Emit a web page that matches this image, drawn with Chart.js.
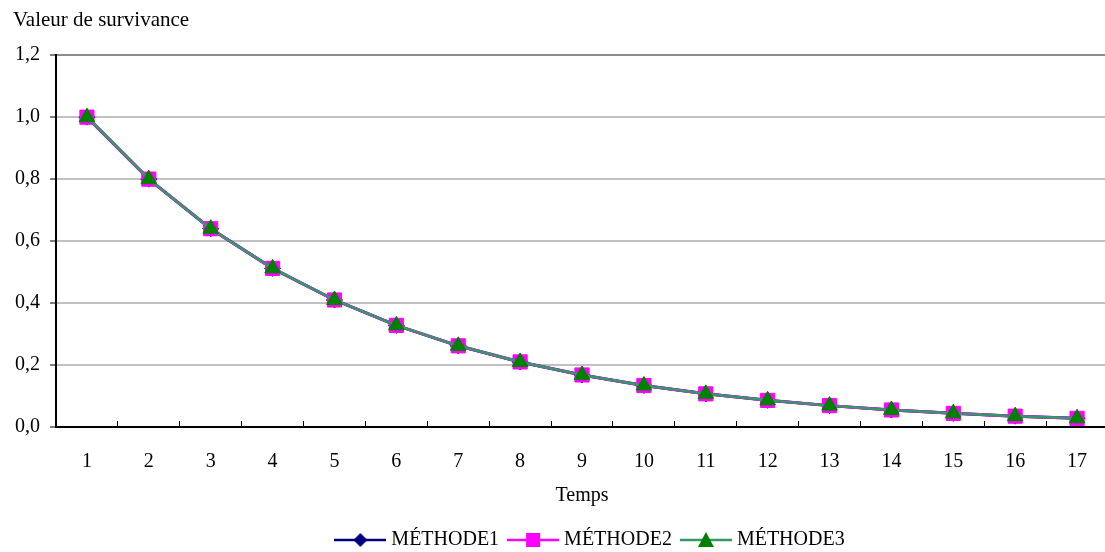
<!DOCTYPE html>
<html>
<head>
<meta charset="utf-8">
<title>Valeur de survivance</title>
<script src="https://cdn.jsdelivr.net/npm/chart.js@4/dist/chart.umd.min.js"></script>
<style>
  html, body { margin: 0; padding: 0; overflow: hidden; background: #ffffff; }
  canvas { display: block; }
</style>
</head>
<body>
<canvas id="survie" width="1119" height="560"></canvas>
<script>
// Temps (categories)
const temps = ['1', '2', '3', '4', '5', '6', '7', '8', '9', '10', '11', '12', '13', '14', '15', '16', '17'];

// Valeur de survivance pour chaque méthode
const methode1 = [1.000, 0.800, 0.640, 0.512, 0.410, 0.328, 0.262, 0.210, 0.168, 0.134, 0.107, 0.086, 0.069, 0.055, 0.044, 0.035, 0.028];
const methode2 = [1.000, 0.800, 0.640, 0.512, 0.410, 0.328, 0.262, 0.210, 0.168, 0.134, 0.107, 0.086, 0.069, 0.055, 0.044, 0.035, 0.028];
const methode3 = [1.000, 0.800, 0.640, 0.512, 0.410, 0.328, 0.262, 0.210, 0.168, 0.134, 0.107, 0.086, 0.069, 0.055, 0.044, 0.035, 0.028];

// Étiquettes de l'axe vertical
const yTickLabels = ['0,0', '0,2', '0,4', '0,6', '0,8', '1,0', '1,2'];

const FONT = "'Liberation Serif', 'Times New Roman', Times, serif";
Chart.defaults.font.family = FONT;
Chart.defaults.font.size = 20;
Chart.defaults.color = '#000000';

// Legend icon: a short line with the series marker in the middle
function legendIcon(lineColor, fill, shape) {
  const c = document.createElement('canvas');
  c.width = 52; c.height = 20;
  const g = c.getContext('2d');
  g.strokeStyle = lineColor;
  g.lineWidth = 2.5;
  g.beginPath(); g.moveTo(0, 10); g.lineTo(52, 10); g.stroke();
  g.fillStyle = fill;
  g.beginPath();
  if (shape === 'diamond') {
    g.moveTo(26, 3); g.lineTo(33, 10); g.lineTo(26, 17); g.lineTo(19, 10); g.closePath();
  } else if (shape === 'square') {
    g.rect(19, 3, 14, 14);
  } else {
    g.moveTo(26, 2); g.lineTo(34, 17); g.lineTo(18, 17); g.closePath();
  }
  g.fill();
  return c;
}
const legendIcons = [
  legendIcon('#000080', '#000080', 'diamond'),
  legendIcon('#ff00ff', '#ff00ff', 'square'),
  legendIcon('#339966', '#008000', 'triangle')
];

// Centre the legend row under the plot area
const legendUnderPlot = {
  id: 'legendUnderPlot',
  beforeDraw(chart) {
    const lg = chart.legend;
    if (!lg) return;
    const cx = (chart.chartArea.left + chart.chartArea.right) / 2 + 10;
    const w = lg.right - lg.left;
    lg.left = cx - w / 2;
    lg.right = lg.left + w;
  }
};

new Chart(document.getElementById('survie'), {
  type: 'line',
  data: {
    labels: temps,
    datasets: [
      {
        label: 'MÉTHODE1',
        data: methode1,
        order: 3,
        borderColor: '#000080',
        backgroundColor: '#000080',
        borderWidth: 3,
        pointStyle: 'rectRot',
        pointRadius: 8,
        pointBorderWidth: 1,
        pointBorderColor: '#000080',
        pointBackgroundColor: '#000080'
      },
      {
        label: 'MÉTHODE2',
        data: methode2,
        order: 2,
        borderColor: '#ff00ff',
        backgroundColor: '#ff00ff',
        borderWidth: 3,
        pointStyle: 'rect',
        pointRadius: 10,
        pointBorderWidth: 1,
        pointBorderColor: '#ff00ff',
        pointBackgroundColor: '#ff00ff'
      },
      {
        label: 'MÉTHODE3',
        data: methode3,
        order: 1,
        borderColor: '#339966',
        backgroundColor: '#008000',
        borderWidth: 2.5,
        pointStyle: 'triangle',
        pointRadius: 9,
        pointBorderWidth: 1,
        pointBorderColor: '#008000',
        pointBackgroundColor: '#008000'
      }
    ]
  },
  options: {
    responsive: false,
    animation: false,
    events: [],
    layout: { padding: { left: 13, right: 0, top: 0, bottom: 0 } },
    elements: { line: { tension: 0 } },
    plugins: {
      tooltip: { enabled: false },
      title: {
        display: true,
        text: 'Valeur de survivance',
        align: 'start',
        color: '#000000',
        font: { family: FONT, size: 21, weight: 'normal' },
        padding: { top: 8, bottom: 22 }
      },
      legend: {
        position: 'bottom',
        align: 'center',
        labels: {
          usePointStyle: true,
          pointStyleWidth: 42,
          padding: 13,
          color: '#000000',
          font: { family: FONT, size: 20 },
          generateLabels(chart) {
            const items = Chart.defaults.plugins.legend.labels.generateLabels(chart);
            items.sort((a, b) => a.datasetIndex - b.datasetIndex);
            items.forEach(it => { it.pointStyle = legendIcons[it.datasetIndex]; });
            return items;
          }
        }
      }
    },
    scales: {
      x: {
        type: 'category',
        offset: true,
        afterFit(scale) { scale.height = 90; },
        grid: {
          display: true,
          offset: true,
          drawOnChartArea: false,
          drawTicks: true,
          tickLength: -6,
          tickColor: '#000000',
          tickWidth: 1
        },
        border: { display: true, color: '#000000', width: 2 },
        ticks: { padding: 29, maxRotation: 0, minRotation: 0, autoSkip: false, color: '#000000' },
        title: {
          display: true,
          text: 'Temps',
          color: '#000000',
          font: { family: FONT, size: 20 },
          padding: { top: 14, bottom: 9 }
        }
      },
      y: {
        min: 0,
        max: 1.2,
        afterFit(scale) { scale.width = 43; },
        grid: {
          color: (ctx) => (ctx.tick && ctx.tick.value > 1.19 ? '#8c8c8c' : '#c0c0c0'),
          lineWidth: 2,
          drawTicks: true,
          tickLength: 6,
          tickColor: '#000000',
          tickWidth: 1
        },
        border: { display: true, color: '#000000', width: 2 },
        ticks: {
          stepSize: 0.2,
          padding: 10,
          color: '#000000',
          callback: (value, index) => yTickLabels[index]
        }
      }
    }
  },
  plugins: [legendUnderPlot]
});
</script>
</body>
</html>
